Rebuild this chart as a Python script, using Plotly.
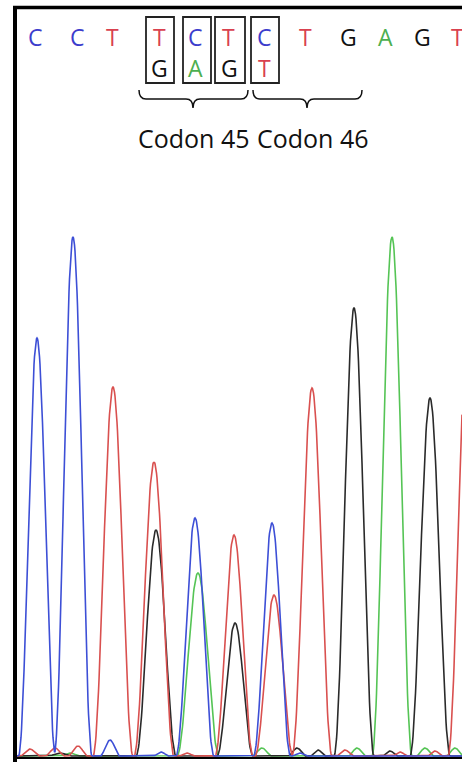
import numpy as np
import plotly.graph_objects as go

# ---- data: peak centres (scan position), heights (signal), half-widths ----
blue_centers = [37, 73, 195, 272, 110, 161, 300]
blue_heights = [418, 519, 238, 233, 16, 4, 3]
blue_widths = [18.5, 19, 19, 18.5, 10, 8, 8]

red_centers = [113, 154, 234, 274, 312, 468, 30, 55, 78, 187, 345, 400, 435]
red_heights = [369, 294, 221, 161, 368, 430, 7, 8, 10, 3, 6, 4, 5]
red_widths = [20, 20, 19, 19, 20, 20, 10, 10, 10, 8, 9, 8, 8]

green_centers = [198, 392, 70, 262, 357, 425, 455]
green_heights = [183, 519, 3, 8, 8, 8, 8]
green_widths = [21, 20, 10, 10, 9, 9, 9]

black_centers = [156, 235, 354, 430, 60, 297, 318, 390]
black_heights = [226, 133, 448, 358, 3, 8, 6, 5]
black_widths = [20, 18, 20, 20, 12, 9, 8, 8]

top_bases = ["C", "C", "T", "T", "C", "T", "C", "T", "G", "A", "G", "T"]
top_pos = [35, 77, 112, 159, 195, 228, 264, 305, 348, 385, 422, 457]
second_bases = ["G", "A", "G", "T"]
second_pos = [159, 195, 229, 264]
codon_labels = ["Codon 45", "Codon 46"]
codon_pos = [194, 313]

W, H = 462, 762
BASE = 756  # pixel row of signal zero

base_colors = {"A": "#4caf50", "C": "#3c3ccc", "G": "#111111", "T": "#d9414f"}
trace_colors = {"blue": "#3d4fd6", "red": "#d9504f", "green": "#55c455", "black": "#2a2a2a"}

x = np.arange(17, 462.01, 0.5)


def trace(centers, heights, widths):
    y = np.zeros_like(x)
    for c, h, w in zip(centers, heights, widths):
        d = np.abs(x - c)
        m = d < w
        y[m] += h * np.cos(np.pi * d[m] / (2 * w)) ** 2
    return y


fig = go.Figure()
for name, cs, hs, ws in [
    ("green", green_centers, green_heights, green_widths),
    ("black", black_centers, black_heights, black_widths),
    ("red", red_centers, red_heights, red_widths),
    ("blue", blue_centers, blue_heights, blue_widths),
]:
    fig.add_trace(go.Scatter(x=x, y=trace(cs, hs, ws), mode="lines",
                             line=dict(color=trace_colors[name], width=1.6),
                             hoverinfo="skip", showlegend=False))


def Y(py):
    return BASE - py


annotations = []
for b, px in zip(top_bases, top_pos):
    annotations.append(dict(x=px, y=Y(37), text=b, showarrow=False, xref="x", yref="y",
                            font=dict(family="Open Sans", size=23, color=base_colors[b])))
for b, px in zip(second_bases, second_pos):
    annotations.append(dict(x=px, y=Y(68), text=b, showarrow=False, xref="x", yref="y",
                            font=dict(family="Open Sans", size=23, color=base_colors[b])))
for t, px in zip(codon_labels, codon_pos):
    annotations.append(dict(x=px, y=Y(138), text=t, showarrow=False, xref="x", yref="y",
                            font=dict(family="Open Sans", size=25, color="#111111")))

shapes = []
# boxes around ambiguous bases
for x0, x1 in [(146, 174), (183, 211), (215, 245), (251, 279)]:
    shapes.append(dict(type="rect", xref="x", yref="y", x0=x0, x1=x1, y0=Y(83), y1=Y(17),
                       line=dict(color="#222222", width=1.8), layer="above"))


def brace(x0, x1, tip):
    yt, ym, yb = Y(90), Y(99), Y(108)
    r = 7
    return (f"M {x0},{yt} Q {x0},{ym} {x0 + r},{ym} L {tip - r},{ym} "
            f"Q {tip},{ym} {tip},{yb} Q {tip},{ym} {tip + r},{ym} "
            f"L {x1 - r},{ym} Q {x1},{ym} {x1},{yt}")


for x0, x1, tip in [(139, 248, 193), (253, 362, 307)]:
    shapes.append(dict(type="path", xref="x", yref="y", path=brace(x0, x1, tip),
                       line=dict(color="#111111", width=1.5), layer="above"))

# frame lines
shapes.append(dict(type="line", xref="x", yref="y", x0=13, x1=462, y0=Y(7.5), y1=Y(7.5),
                   line=dict(color="black", width=3.5), layer="above"))
shapes.append(dict(type="line", xref="x", yref="y", x0=15, x1=15, y0=Y(6), y1=Y(762),
                   line=dict(color="black", width=4), layer="above"))
shapes.append(dict(type="line", xref="x", yref="y", x0=13, x1=462, y0=Y(758), y1=Y(758),
                   line=dict(color="black", width=2), layer="above"))

fig.update_layout(
    width=W, height=H,
    margin=dict(l=0, r=0, t=0, b=0),
    paper_bgcolor="white", plot_bgcolor="white",
    xaxis=dict(range=[0, W], visible=False, fixedrange=True),
    yaxis=dict(range=[BASE - H, BASE], visible=False, fixedrange=True),
    annotations=annotations, shapes=shapes,
)

fig.write_html("out.html", config={"displayModeBar": False},
               post_script="document.body.style.margin='0';document.body.style.overflow='hidden';")
